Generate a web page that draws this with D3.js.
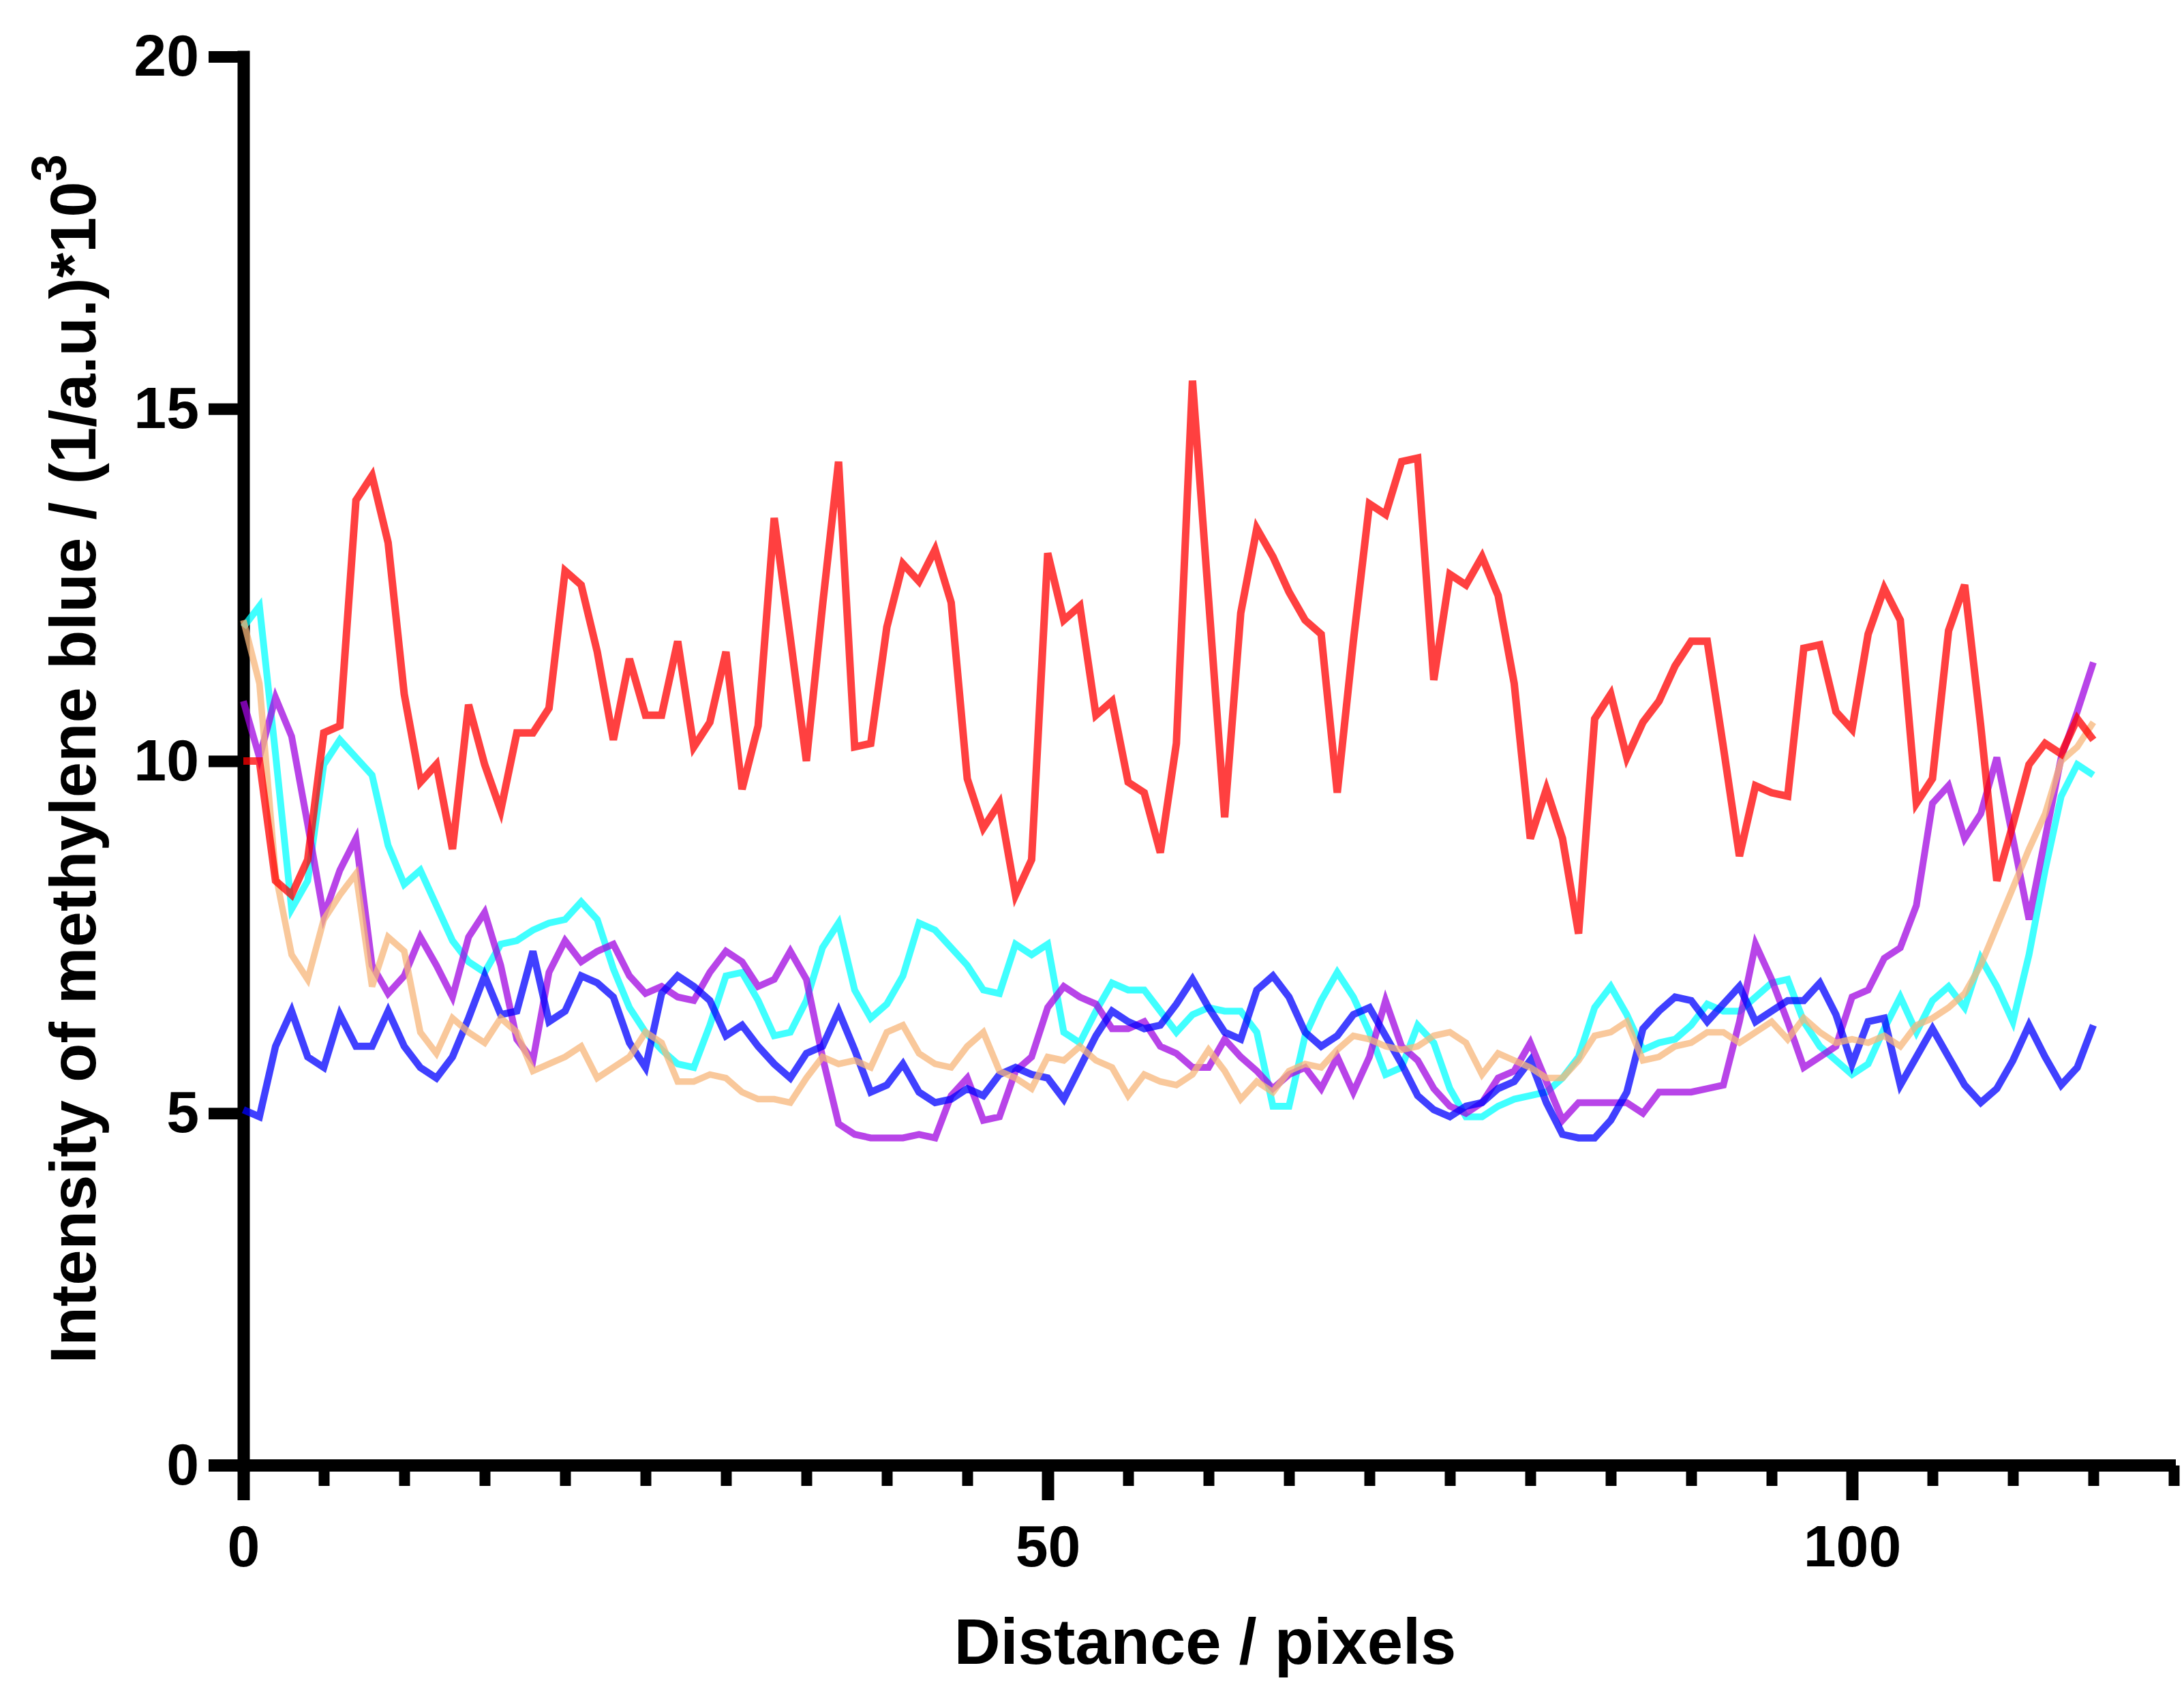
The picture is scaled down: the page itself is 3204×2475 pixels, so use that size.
<!DOCTYPE html>
<html>
<head>
<meta charset="utf-8">
<script src="https://cdn.jsdelivr.net/npm/d3@7/dist/d3.min.js"></script>
<style>
	body { margin: 0; background: #fff; }
	text { font-family: "Liberation Sans", Arial, sans-serif; font-weight: bold; fill: #000; }
</style>
</head>
<body>
<div id="chart"></div>
<script>

// intensity profiles, one value per pixel along the line (index = distance)
const redValues = [
	10.0, 10.0, 8.3, 8.1, 8.6, 10.4, 10.5, 13.7, 14.05, 13.1,
	10.95, 9.7, 9.95, 8.75, 10.8, 9.95, 9.3, 10.4, 10.4, 10.75,
	12.7, 12.5, 11.55, 10.3, 11.45, 10.65, 10.65, 11.7, 10.2, 10.55,
	11.55, 9.6, 10.5, 13.45, 11.75, 10.0, 12.2, 14.25, 10.2, 10.25,
	11.9, 12.8, 12.55, 13.0, 12.25, 9.75, 9.05, 9.4, 8.1, 8.6,
	12.95, 12.0, 12.2, 10.65, 10.85, 9.7, 9.55, 8.7, 10.25, 15.4,
	12.3, 9.2, 12.1, 13.3, 12.9, 12.4, 12.0, 11.8, 9.55, 11.7,
	13.65, 13.5, 14.25, 14.3, 11.15, 12.65, 12.5, 12.9, 12.35, 11.1,
	8.9, 9.6, 8.9, 7.55, 10.6, 10.95, 10.05, 10.55, 10.85, 11.35,
	11.7, 11.7, 10.2, 8.65, 9.65, 9.55, 9.5, 11.6, 11.65, 10.7,
	10.45, 11.8, 12.45, 12.0, 9.4, 9.75, 11.85, 12.5, 10.5, 8.3,
	9.1, 9.95, 10.25, 10.1, 10.6, 10.3
];

const blueValues = [
	5.05, 4.95, 5.95, 6.45, 5.8, 5.65, 6.4, 5.95, 5.95, 6.45,
	5.95, 5.65, 5.5, 5.8, 6.35, 6.95, 6.4, 6.45, 7.3, 6.3,
	6.45, 6.95, 6.85, 6.65, 6.0, 5.65, 6.7, 6.95, 6.8, 6.6,
	6.1, 6.25, 5.95, 5.7, 5.5, 5.85, 5.95, 6.45, 5.9, 5.3,
	5.4, 5.7, 5.3, 5.15, 5.2, 5.35, 5.25, 5.55, 5.65, 5.55,
	5.5, 5.2, 5.65, 6.1, 6.45, 6.3, 6.2, 6.25, 6.55, 6.9,
	6.5, 6.15, 6.05, 6.75, 6.95, 6.65, 6.15, 5.95, 6.1, 6.4,
	6.5, 6.1, 5.7, 5.25, 5.05, 4.95, 5.1, 5.15, 5.35, 5.45,
	5.75, 5.15, 4.7, 4.65, 4.65, 4.9, 5.3, 6.2, 6.45, 6.65,
	6.6, 6.3, 6.55, 6.8, 6.3, 6.45, 6.6, 6.6, 6.85, 6.4,
	5.7, 6.3, 6.35, 5.4, 5.8, 6.2, 5.8, 5.4, 5.15, 5.35,
	5.75, 6.25, 5.8, 5.4, 5.65, 6.25
];

const cyanValues = [
	11.9, 12.2, 10.1, 7.9, 8.3, 9.95, 10.3, 10.05, 9.8, 8.8,
	8.25, 8.45, 7.95, 7.45, 7.15, 7.0, 7.4, 7.45, 7.6, 7.7,
	7.75, 8.0, 7.75, 7.05, 6.5, 6.15, 5.9, 5.7, 5.65, 6.25,
	6.95, 7.0, 6.6, 6.1, 6.15, 6.6, 7.35, 7.7, 6.75, 6.35,
	6.55, 6.95, 7.7, 7.6, 7.35, 7.1, 6.75, 6.7, 7.4, 7.25,
	7.4, 6.15, 6.0, 6.45, 6.85, 6.75, 6.75, 6.45, 6.15, 6.4,
	6.5, 6.45, 6.45, 6.15, 5.1, 5.1, 6.1, 6.6, 7.0, 6.65,
	6.15, 5.55, 5.65, 6.25, 6.0, 5.35, 4.95, 4.95, 5.1, 5.2,
	5.25, 5.3, 5.5, 5.8, 6.5, 6.8, 6.4, 5.9, 6.0, 6.05,
	6.25, 6.55, 6.45, 6.45, 6.65, 6.85, 6.9, 6.3, 5.95, 5.75,
	5.55, 5.7, 6.2, 6.65, 6.15, 6.6, 6.8, 6.5, 7.2, 6.8,
	6.3, 7.25, 8.45, 9.5, 9.95, 9.8
];

const purpleValues = [
	10.85, 10.05, 10.9, 10.35, 9.1, 7.8, 8.45, 8.9, 7.1, 6.7,
	6.95, 7.5, 7.1, 6.65, 7.5, 7.85, 7.1, 6.05, 5.75, 7.0,
	7.45, 7.15, 7.3, 7.4, 6.95, 6.7, 6.8, 6.65, 6.6, 7.0,
	7.3, 7.15, 6.8, 6.9, 7.3, 6.9, 5.8, 4.85, 4.7, 4.65,
	4.65, 4.65, 4.7, 4.65, 5.25, 5.5, 4.9, 4.95, 5.6, 5.8,
	6.5, 6.8, 6.65, 6.55, 6.2, 6.2, 6.3, 5.95, 5.85, 5.65,
	5.65, 6.05, 5.8, 5.6, 5.35, 5.55, 5.65, 5.35, 5.8, 5.3,
	5.8, 6.6, 5.95, 5.75, 5.35, 5.1, 5.0, 5.15, 5.5, 5.6,
	6.0, 5.45, 4.9, 5.15, 5.15, 5.15, 5.15, 5.0, 5.3, 5.3,
	5.3, 5.35, 5.4, 6.3, 7.4, 6.9, 6.3, 5.65, 5.8, 5.95,
	6.65, 6.75, 7.2, 7.35, 7.95, 9.4, 9.65, 8.9, 9.25, 10.05,
	8.9, 7.75, 8.9, 10.05, 10.7, 11.4
];

const peachValues = [
	12.0, 11.1, 8.4, 7.25, 6.9, 7.75, 8.1, 8.4, 6.8, 7.5,
	7.3, 6.15, 5.85, 6.35, 6.15, 6.0, 6.35, 6.15, 5.6, 5.7,
	5.8, 5.95, 5.5, 5.65, 5.8, 6.15, 6.0, 5.45, 5.45, 5.55,
	5.5, 5.3, 5.2, 5.2, 5.15, 5.5, 5.8, 5.7, 5.75, 5.65,
	6.15, 6.25, 5.85, 5.7, 5.65, 5.95, 6.15, 5.6, 5.5, 5.35,
	5.8, 5.75, 5.95, 5.75, 5.65, 5.25, 5.55, 5.45, 5.4, 5.55,
	5.9, 5.6, 5.2, 5.45, 5.3, 5.6, 5.7, 5.65, 5.9, 6.1,
	6.05, 5.95, 5.9, 5.95, 6.1, 6.15, 6.0, 5.55, 5.85, 5.75,
	5.65, 5.5, 5.5, 5.75, 6.1, 6.15, 6.3, 5.75, 5.8, 5.95,
	6.0, 6.15, 6.15, 6.0, 6.15, 6.3, 6.05, 6.35, 6.15, 6.0,
	6.05, 6.0, 6.1, 5.95, 6.25, 6.35, 6.5, 6.7, 7.1, 7.65,
	8.2, 8.75, 9.25, 10.0, 10.2, 10.55
];

// axis ticks
const xTicksMajor = [0, 50, 100];
const xTicksMinor = [5, 10, 15, 20, 25, 30, 35, 40, 45, 55, 60, 65, 70, 75, 80, 85, 90, 95, 105, 110, 115, 120];
const yTicks = [0, 5, 10, 15, 20];


class ProfileVis {

	constructor(parentElement, series) {
		this.parentElement = parentElement;
		this.series = series;
		this.initVis();
	}

	initVis() {
		let vis = this;

		vis.margin = { top: 83, right: 15, bottom: 325, left: 357 };
		vis.width = 3204 - vis.margin.left - vis.margin.right;
		vis.height = 2475 - vis.margin.top - vis.margin.bottom;

		vis.svg = d3.select(vis.parentElement).append("svg")
			.attr("width", 3204)
			.attr("height", 2475)
			.style("display", "block")
			.append("g")
			.attr("transform", "translate(" + vis.margin.left + "," + vis.margin.top + ")");

		vis.x = d3.scaleLinear().domain([0, 120]).range([0, 2832]);
		vis.y = d3.scaleLinear().domain([0, 20]).range([vis.height, 0]);

		vis.drawAxes();
		vis.updateVis();
	}

	drawAxes() {
		let vis = this;

		// x axis: minor ticks, then labelled major ticks
		vis.svg.append("g")
			.attr("class", "x-minor")
			.attr("transform", "translate(0," + vis.height + ")")
			.call(d3.axisBottom(vis.x).tickValues(xTicksMinor).tickSize(30).tickFormat(""))
			.call(g => g.select(".domain").remove())
			.call(g => g.selectAll("line").attr("stroke", "#000").attr("stroke-width", 16));

		vis.svg.append("g")
			.attr("class", "x-major")
			.attr("transform", "translate(0," + vis.height + ")")
			.call(d3.axisBottom(vis.x).tickValues(xTicksMajor).tickSize(51).tickPadding(36))
			.call(g => g.select(".domain").remove())
			.call(g => g.selectAll("line").attr("stroke", "#000").attr("stroke-width", 18))
			.call(g => g.selectAll("text").attr("font-size", 86).attr("font-family", null));

		// thick x axis line, running out under the y ticks
		vis.svg.append("line")
			.attr("x1", vis.x(0) - 51)
			.attr("x2", vis.x(120) + 3)
			.attr("y1", vis.y(0))
			.attr("y2", vis.y(0))
			.attr("stroke", "#000")
			.attr("stroke-width", 18);

		vis.svg.append("g")
			.attr("class", "y-axis")
			.call(d3.axisLeft(vis.y).tickValues(yTicks).tickSize(51).tickPadding(14).tickSizeOuter(0))
			.call(g => g.select(".domain").attr("stroke", "#000").attr("stroke-width", 18).attr("stroke-linecap", "square"))
			.call(g => g.selectAll("line").attr("stroke", "#000").attr("stroke-width", 17))
			.call(g => g.selectAll("text").attr("font-size", 86).attr("font-family", null));

		// axis titles
		vis.svg.append("text")
			.attr("x", vis.width / 2 - 5)
			.attr("y", 2358)
			.attr("text-anchor", "middle")
			.attr("font-size", 94)
			.text("Distance / pixels");

		let yTitle = vis.svg.append("text")
			.attr("transform", "translate(-217," + (vis.height / 2 - 3) + ") rotate(-90)")
			.attr("text-anchor", "middle")
			.attr("font-size", 94);
		yTitle.append("tspan").text("Intensity of methylene blue / (1/a.u.)*10");
		yTitle.append("tspan").attr("font-size", 72).attr("dy", -43).text("3");
	}

	updateVis() {
		let vis = this;

		let line = d3.line()
			.x((d, i) => vis.x(i))
			.y(d => vis.y(d));

		vis.svg.selectAll(".profile")
			.data(vis.series)
			.enter()
			.append("path")
			.attr("class", "profile")
			.attr("d", d => line(d.values))
			.attr("fill", "none")
			.attr("stroke", d => d.color)
			.attr("stroke-width", d => d.width)
			.attr("stroke-opacity", 0.75)
			.attr("stroke-linejoin", "miter");
	}
}

let profileChart = new ProfileVis(document.getElementById("chart"), [
	{ values: cyanValues, color: "#00ffff", width: 10 },
	{ values: purpleValues, color: "#a005e0", width: 10 },
	{ values: blueValues, color: "#0000ff", width: 10.5 },
	{ values: peachValues, color: "#f7b579", width: 9.5 },
	{ values: redValues, color: "#ff0000", width: 11 }
]);

</script>
</body>
</html>
